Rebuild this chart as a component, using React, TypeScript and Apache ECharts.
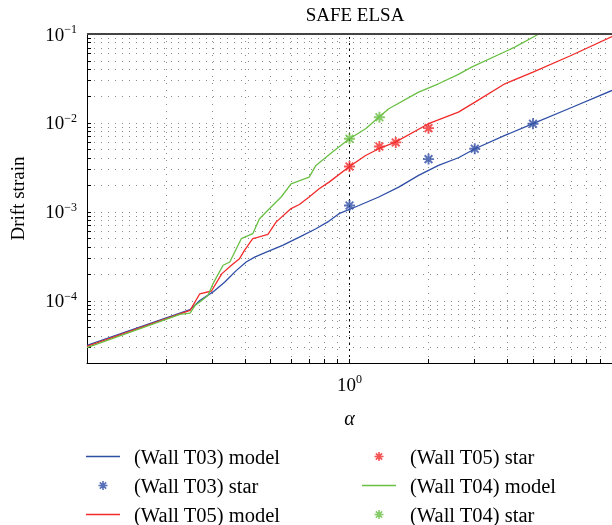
import React, { useEffect, useRef } from 'react';
import * as echarts from 'echarts';

// ---- data ----
const t03ModelX = [0.1, 0.226, 0.247, 0.269, 0.302, 0.335, 0.371, 0.404, 0.435, 0.482, 0.556, 0.644, 0.745, 0.836, 0.912, 1.086, 1.293, 1.54, 1.833, 2.183, 2.6, 3.006, 3.907, 5.0, 6.98, 10];
const t03ModelY = [3.16e-5, 7.29e-5, 7.96e-5, 1.01e-4, 1.26e-4, 1.63e-4, 2.2e-4, 2.73e-4, 3.1e-4, 3.53e-4, 4.21e-4, 5.21e-4, 6.47e-4, 7.88e-4, 9.55e-4, 1.18e-3, 1.47e-3, 1.9e-3, 2.57e-3, 3.33e-3, 4.06e-3, 5.13e-3, 7.24e-3, 9.8e-3, 0.01482, 0.0232];

const t05ModelX = [0.1, 0.226, 0.247, 0.269, 0.298, 0.326, 0.355, 0.381, 0.398, 0.428, 0.489, 0.525, 0.599, 0.644, 0.702, 0.766, 0.836, 1.0, 1.152, 1.293, 1.496, 2.0, 2.6, 3.006, 3.907, 5.0, 6.98, 10];
const t05ModelY = [3.08e-5, 7.14e-5, 7.82e-5, 1.2e-4, 1.29e-4, 2.01e-4, 2.51e-4, 2.98e-4, 3.69e-4, 5.0e-4, 5.59e-4, 7.67e-4, 1.09e-3, 1.21e-3, 1.47e-3, 1.82e-3, 2.16e-3, 3.24e-3, 4.31e-3, 5.13e-3, 6.09e-3, 9.8e-3, 0.01322, 0.01714, 0.02756, 0.03724, 0.0573, 0.0935];

const t04ModelX = [0.1, 0.226, 0.247, 0.258, 0.269, 0.289, 0.302, 0.33, 0.35, 0.387, 0.428, 0.454, 0.496, 0.549, 0.599, 0.702, 0.745, 0.861, 1.0, 1.152, 1.293, 1.411, 1.833, 2.183, 2.6, 2.918, 4.262, 5.22, 5.7];
const t04ModelY = [2.98e-5, 7.05e-5, 7.29e-5, 8.89e-5, 9.7e-5, 1.15e-4, 1.56e-4, 2.51e-4, 2.73e-4, 5.0e-4, 5.69e-4, 8.39e-4, 1.09e-3, 1.47e-3, 2.07e-3, 2.46e-3, 3.33e-3, 4.7e-3, 6.64e-3, 8.61e-3, 0.01161, 0.01445, 0.02218, 0.02756, 0.0351, 0.0424, 0.0711, 0.0987, 0.115];

const t03StarX = [1, 2, 3, 5];
const t03StarY = [1.18e-3, 3.92e-3, 5.13e-3, 9.8e-3];
const t05StarX = [1, 1.3, 1.5, 2];
const t05StarY = [3.24e-3, 5.44e-3, 6.04e-3, 8.74e-3];
const t04StarX = [1, 1.3];
const t04StarY = [6.64e-3, 0.0116];

const xTicks = [0.2, 0.3, 0.4, 0.5, 0.6, 0.7, 0.8, 0.9, 1, 2, 3, 4, 5, 6, 7, 8, 9];
const xLabels = [1];
const yTicks = [
  2e-5, 3e-5, 4e-5, 5e-5, 6e-5, 7e-5, 8e-5, 9e-5,
  1e-4, 2e-4, 3e-4, 4e-4, 5e-4, 6e-4, 7e-4, 8e-4, 9e-4,
  1e-3, 2e-3, 3e-3, 4e-3, 5e-3, 6e-3, 7e-3, 8e-3, 9e-3,
  1e-2, 2e-2, 3e-2, 4e-2, 5e-2, 6e-2, 7e-2, 8e-2, 9e-2, 1e-1,
];
const yLabels = [1e-4, 1e-3, 1e-2, 1e-1];

const BLUE = '#2f4ea5';
const RED = '#f22a2a';
const GREEN = '#6abf45';
const SERIF = "'Liberation Serif', 'Times New Roman', serif";
const STAR = 'path://M0,-1L0,1M-1,0L1,0M-0.7,-0.7L0.7,0.7M-0.7,0.7L0.7,-0.7';
const LINE_ICON = 'path://M0,0H34V1.4H0Z';

const pairs = (xs: number[], ys: number[]) => xs.map((x, i) => [x, ys[i]]);

export default function App() {
  const ref = useRef<HTMLDivElement>(null);
  useEffect(() => {
    const chart = echarts.init(ref.current!, null, { renderer: 'svg' });
    const fmt = (v: number) => {
      const e = Math.round(Math.log10(v));
      return `{b|10}{s|${e < 0 ? '\u2212' + -e : e}}`;
    };
    const rich = {
      b: { fontSize: 19, fontFamily: SERIF, color: '#000', lineHeight: 22 },
      s: { fontSize: 12, fontFamily: SERIF, color: '#000', verticalAlign: 'top', lineHeight: 12 },
    };
    const legendText = { fontFamily: SERIF, fontSize: 20.5, color: '#000', lineHeight: 20, padding: [0, 0, 0, 9] };
    const lineItem = (name: string, c: string) => ({ name, icon: LINE_ICON, itemStyle: { color: c, borderWidth: 0 } });
    const starItem = (name: string, c: string) => ({ name, icon: STAR, itemStyle: { color: c, borderColor: c, borderWidth: 1.6 } });
    const lineSeries = (name: string, xs: number[], ys: number[], c: string, extra: any = {}) => ({
      name, type: 'line', data: pairs(xs, ys), showSymbol: false, symbol: 'none',
      lineStyle: { color: c, width: 1.3 }, itemStyle: { color: c }, z: 3, ...extra,
    });
    const starSeries = (name: string, xs: number[], ys: number[], c: string) => ({
      name, type: 'scatter', data: pairs(xs, ys), symbol: STAR, symbolSize: 11,
      itemStyle: { color: c, borderColor: c, borderWidth: 1.9 }, z: 5,
    });
    const legendBase = {
      orient: 'vertical', top: 446, height: 95, padding: 0, itemWidth: 34, itemHeight: 9, itemGap: 8,
      selectedMode: false, textStyle: legendText,
    };
    chart.setOption({
      animation: false,
      title: {
        text: 'SAFE ELSA', left: 350, top: 0, textAlign: 'center',
        textStyle: { fontFamily: SERIF, fontSize: 19, fontWeight: 'normal', color: '#000' },
      },
      grid: { left: 86, right: -2, top: 34, bottom: 162 },
      xAxis: {
        type: 'log', logBase: 10, min: 0.1, max: 10,
        name: 'α', nameLocation: 'middle', nameGap: 45,
        nameTextStyle: { fontFamily: SERIF, fontSize: 20, fontStyle: 'italic', color: '#000' },
        axisLine: { show: true, lineStyle: { color: '#000', width: 1 } },
        axisTick: { show: true, inside: true, length: 4, customValues: xTicks, lineStyle: { color: '#000' } },
        axisLabel: { customValues: xLabels, formatter: fmt, rich, margin: 10 },
        splitLine: { show: true, lineStyle: { color: '#8a8a8a', type: [1, 6], width: 1 } },
      },
      yAxis: {
        type: 'log', logBase: 10, min: 2e-5, max: 0.1,
        name: 'Drift strain', nameLocation: 'middle', nameGap: 60,
        nameTextStyle: { fontFamily: SERIF, fontSize: 19, color: '#000' },
        axisLine: { show: true, lineStyle: { color: '#000', width: 1 } },
        axisTick: { show: true, inside: true, length: 4, customValues: yTicks, lineStyle: { color: '#000' } },
        axisLabel: { customValues: yLabels, formatter: fmt, rich, margin: 10 },
        splitLine: { show: true, lineStyle: { color: '#8a8a8a', type: [1, 6], width: 1 } },
      },
      legend: [
        {
          ...legendBase, left: 86,
          data: [lineItem('(Wall T03) model', BLUE), starItem('(Wall T03) star', BLUE), lineItem('(Wall T05) model', RED)],
        },
        {
          ...legendBase, left: 362,
          data: [starItem('(Wall T05) star', RED), lineItem('(Wall T04) model', GREEN), starItem('(Wall T04) star', GREEN)],
        },
      ],
      series: [
        lineSeries('(Wall T03) model', t03ModelX, t03ModelY, BLUE, {
          markLine: {
            silent: true, symbol: 'none', label: { show: false },
            data: [
              { xAxis: 1, lineStyle: { color: '#000', type: [2, 4], width: 1 } },
              { yAxis: 0.1, lineStyle: { color: '#444', type: 'solid', width: 2 } },
            ],
          },
        }),
        starSeries('(Wall T03) star', t03StarX, t03StarY, BLUE),
        lineSeries('(Wall T05) model', t05ModelX, t05ModelY, RED),
        starSeries('(Wall T05) star', t05StarX, t05StarY, RED),
        lineSeries('(Wall T04) model', t04ModelX, t04ModelY, GREEN),
        starSeries('(Wall T04) star', t04StarX, t04StarY, GREEN),
      ],
    });
    return () => chart.dispose();
  }, []);
  return <div ref={ref} style={{ position: 'fixed', left: 0, top: 0, width: 612, height: 525 }} />;
}
